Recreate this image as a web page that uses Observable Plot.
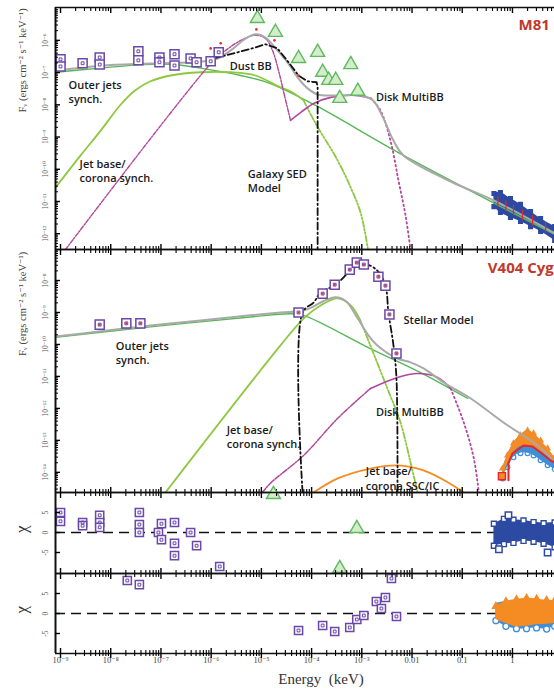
<!DOCTYPE html>
<html><head><meta charset="utf-8">
<script src="https://cdn.jsdelivr.net/npm/d3@7"></script>
<script src="https://cdn.jsdelivr.net/npm/@observablehq/plot@0.6"></script>
<style>
html,body{margin:0;padding:0;background:#fff;overflow:hidden}
#chart{width:554px;height:692px;position:relative}
#chart svg{display:block}
</style></head><body><div id="chart"></div>
<script>
// ---------- tick labels ----------
const xMajorExp = [-9,-8,-7,-6,-5,-4,-3,-2,-1,0];
const xTickLabels = ["10⁻⁹","10⁻⁸","10⁻⁷","10⁻⁶","10⁻⁵","10⁻⁴","10⁻³","0.01","0.1","1"];
const topYExp = [-12,-11,-10,-9,-8,-7,-6];
const topYLabels = ["10⁻¹²","10⁻¹¹","10⁻¹⁰","10⁻⁹","10⁻⁸","10⁻⁷","10⁻⁶"];
const midYExp = [-14,-13,-12,-11,-10,-9,-8];
const midYLabels = ["10⁻¹⁴","10⁻¹³","10⁻¹²","10⁻¹¹","10⁻¹⁰","10⁻⁹","10⁻⁸"];
const chiTicks = [-5,0,5];
const chiLabels = ["-5","0","5"];

// ---------- M81 panel (log10 energy keV, log10 flux) ----------
const m81TotalLogE = [-9.10,-8.20,-7.21,-6.21,-5.91,-5.61,-5.31,-5.11,-4.92,-4.68,-4.48,-4.28,-4.08,-3.88,-3.52,-3.02,-2.78,-2.57,-2.37,-2.17,-1.23,-0.37,0.84];
const m81TotalLogF = [-6.95,-6.79,-6.72,-6.66,-6.59,-6.31,-5.94,-5.81,-5.91,-6.31,-6.68,-7.15,-7.49,-7.68,-7.71,-7.71,-7.86,-8.42,-9.11,-9.57,-10.38,-10.97,-11.99];
const m81OuterLogE = [-9.10,-8.20,-7.41,-6.81,-6.21,-5.41,-4.82,-3.92,-2.17,0.84];
const m81OuterLogF = [-6.99,-6.86,-6.76,-6.74,-6.86,-7.09,-7.34,-8.02,-9.57,-12.02];
const m81JetLogE = [-9.10,-8.60,-8.20,-7.80,-7.51,-7.21,-6.81,-6.21,-5.61,-5.12,-4.62,-4.42,-4.16];
const m81JetLogF = [-10.57,-9.57,-8.80,-7.99,-7.55,-7.27,-7.09,-6.99,-6.99,-7.09,-7.46,-7.58,-7.86];
const m81JetCutLogE = [-4.16,-3.92,-3.48,-3.22,-3.02,-2.88];
const m81JetCutLogF = [-7.86,-8.58,-9.73,-10.57,-11.37,-12.46];
const m81DustLogE = [-8.90,-5.95,-5.71,-5.41,-5.12,-4.92,-4.78,-4.66,-4.54,-4.42];
const m81DustLogF = [-12.49,-6.62,-6.31,-6.00,-5.84,-5.94,-6.31,-6.93,-7.71,-8.48];
const m81DiskLogE = [-4.42,-4.22,-3.96,-3.62,-3.12,-2.82];
const m81DiskLogF = [-8.48,-8.24,-7.96,-7.77,-7.71,-7.80];
const m81DiskTailLogE = [-2.82,-2.63,-2.43,-2.27,-2.13,-2.03];
const m81DiskTailLogF = [-7.80,-8.17,-9.11,-10.35,-11.43,-12.49];
const m81GalaxyLogE = [-5.95,-5.47,-5.12,-4.92,-4.68,-4.46,-4.26,-4.08,-3.90,-3.88,-3.88];
const m81GalaxyLogF = [-6.56,-6.37,-6.22,-6.12,-6.25,-6.68,-7.09,-7.27,-7.30,-7.45,-12.49];
const m81RedLogE = [-6.01,-5.81,-5.10,-4.74,-4.26];
const m81RedLogF = [-6.25,-6.09,-5.66,-6.00,-7.09];
const m81TriLogE = [-5.08,-4.72,-4.26,-3.88,-3.78,-3.66,-3.52,-3.22,-3.44,-3.08];
const m81TriLogF = [-5.32,-5.75,-6.56,-6.37,-6.99,-7.24,-7.24,-6.75,-7.80,-7.58];
const m81SqLogE = [-9.0,-9.0,-8.56,-8.22,-8.22,-7.45,-7.45,-7.03,-7.03,-6.73,-6.73,-6.41,-6.29,-6.01,-5.85];
const m81SqLogF = [-6.59,-6.81,-6.71,-6.53,-6.75,-6.34,-6.62,-6.53,-6.68,-6.43,-6.78,-6.56,-6.68,-6.65,-6.37];
const m81XrayLogE = [-0.37,-0.24,-0.04,0.16,0.36,0.56,0.84];
const m81XrayHiLogF = [-10.75,-10.72,-10.91,-11.09,-11.31,-11.53,-11.78];
const m81XrayLoLogF = [-11.16,-11.34,-11.50,-11.62,-11.78,-11.93,-12.21];
const m81ErrLogE = [-0.29,-0.13,0.02,0.20,0.40,0.66];
const m81ErrLogF = [-11.02,-11.15,-11.28,-11.43,-11.60,-11.82];

// ---------- V404 Cyg panel ----------
const v404TotalLogE = [-9.10,-8.20,-7.21,-6.21,-5.22,-4.62,-4.16,-3.96,-3.76,-3.52,-3.32,-3.08,-2.88,-2.69,-2.29,-2.03,-1.77,-1.37,-0.83,-0.18,0.50,0.84];
const v404TotalLogF = [-9.75,-9.59,-9.41,-9.25,-9.09,-9.00,-8.94,-8.81,-8.64,-8.52,-8.64,-9.19,-9.69,-10.03,-10.44,-10.56,-10.75,-11.19,-11.69,-12.44,-13.16,-13.69];
const v404OuterLogE = [-9.10,-7.21,-5.22,-4.42,-4.16,-2.83,-1.83,-0.89];
const v404OuterLogF = [-9.78,-9.45,-9.14,-9.04,-9.09,-10.13,-10.88,-11.69];
const v404JetLogE = [-6.91,-4.62,-4.16,-3.82,-3.48,-3.22,-3.03];
const v404JetLogF = [-14.63,-10.03,-9.19,-8.78,-8.56,-8.78,-9.25];
const v404JetCutLogE = [-3.03,-2.83,-2.49,-2.23,-2.03,-1.89];
const v404JetCutLogF = [-9.25,-10.03,-11.38,-12.44,-13.69,-14.63];
const v404DiskRiseLogE = [-4.98,-4.82,-4.16,-3.48,-2.83];
const v404DiskRiseLogF = [-14.63,-14.34,-13.47,-12.31,-11.38];
const v404DiskLogE = [-2.83,-2.29,-1.89,-1.49,-1.23];
const v404DiskLogF = [-11.38,-11.03,-10.91,-11.03,-11.38];
const v404DiskTailLogE = [-1.23,-0.97,-0.77,-0.67];
const v404DiskTailLogF = [-11.38,-12.44,-13.56,-14.63];
const v404SscLogE = [-3.96,-3.48,-2.83,-2.29,-1.77,-1.29,-0.97];
const v404SscLogF = [-14.63,-14.19,-13.88,-13.78,-13.94,-14.31,-14.63];
const v404StarLogE = [-4.18,-4.18,-3.96,-3.82,-3.52,-3.22,-2.98,-2.69,-2.53,-2.47,-2.37,-2.31,-2.29];
const v404StarLogF = [-14.63,-9.00,-8.69,-8.38,-8.13,-7.69,-7.47,-7.69,-8.16,-9.00,-10.03,-11.06,-14.63];
const v404SqLogE = [-8.22,-7.69,-7.41,-4.26,-3.78,-3.54,-3.24,-3.10,-2.96,-2.67,-2.53,-2.45,-2.31];
const v404SqLogF = [-9.38,-9.34,-9.34,-9.00,-8.41,-8.13,-7.66,-7.44,-7.50,-7.88,-8.16,-9.06,-10.28];
const v404XrayLogE = [-0.20,-0.10,0.02,0.16,0.30,0.42,0.56,0.70,0.84];
const v404OrangeHiLogF = [-13.88,-13.47,-13.09,-12.84,-12.69,-12.78,-13.00,-13.25,-13.53];
const v404OrangeLoLogF = [-14.13,-13.75,-13.38,-13.19,-13.16,-13.22,-13.34,-13.50,-13.72];
const v404BlueLoLogF = [-14.19,-13.84,-13.53,-13.40,-13.40,-13.47,-13.62,-13.78,-13.90];
const v404RedLogE = [-0.08,-0.08,0.00,0.22,0.40,0.56,0.76,0.84];
const v404RedLogF = [-14.25,-13.72,-13.41,-13.16,-13.19,-13.38,-13.63,-13.69];
const v404LowLogE = [-0.21];
const v404LowLogF = [-14.12];

// ---------- residuals ----------
const chi1SqLogE = [-9.0,-9.0,-8.56,-8.56,-8.22,-8.22,-8.22,-7.43,-7.43,-7.43,-7.05,-6.99,-6.99,-6.73,-6.73,-6.73,-6.41,-6.29,-5.83];
const chi1SqChi = [5,2.8,2.5,1.7,4.3,2.5,1.3,5,2,0,0,2.2,-1.8,2.5,-2.7,-5.8,0,-3.3,-8.5];
const chi1TriLogE = [-4.76,-3.44,-3.10];
const chi1TriChi = [9.5,-9,1];
const chi1BlueLogE = [-0.37,-0.17,0.02,0.22,0.42,0.62,0.84];
const chi1BlueHi = [2.2,3.4,3.2,3.0,2.6,2.3,2.5];
const chi1BlueLo = [-3.3,-2.9,-2.6,-2.1,-2.3,-2.8,-3.7];
const chi1OutLogE = [-0.08,-0.27,0.70];
const chi1OutChi = [4.3,-4.2,-5.0];
const chi2SqLogE = [-7.67,-7.43,-4.26,-3.78,-3.54,-3.24,-3.10,-2.96,-2.71,-2.61,-2.53,-2.41,-2.31];
const chi2SqChi = [8.25,7.2,-4.25,-3,-4.5,-3.5,-1.5,-0.5,3,1.25,4,8.75,-0.75];
const chi2LogE = [-0.33,-0.13,0.08,0.28,0.48,0.68,0.84];
const chi2OrangeHi = [1.8,3.0,3.5,3.8,3.6,3.3,3.2];
const chi2OrangeLo = [-1.5,-2.5,-3.3,-3.2,-2.8,-2.7,-2.5];
const chi2BlueHi = [2.5,3.0,3.0,3.0,3.0,3.0,3.0];
const chi2BlueLo = [-1.8,-3.2,-3.8,-3.8,-3.6,-3.9,-3.2];

// ---------- annotations ----------
const topNoteText = ["Outer jets\nsynch.","Jet base/\ncorona synch.","Dust BB","Galaxy SED\nModel","Disk MultiBB"];
const topNoteLogE = [-8.84,-8.62,-5.63,-5.27,-2.72];
const topNoteLogF = [-7.58,-10.04,-6.78,-10.35,-7.74];
const midNoteText = ["Stellar Model","Outer jets\nsynch.","Jet base/\ncorona synch.","Disk MultiBB","Jet base/\ncorona SSC/IC"];
const midNoteLogE = [-2.17,-7.90,-5.69,-2.72,-2.92];
const midNoteLogF = [-9.22,-10.25,-12.88,-12.09,-14.17];
const sourceNames = ["M81","V404 Cyg"];
const sourceLogE = [0.12,-0.49];
const sourceLogF = [-5.53,-7.63];

// ---------- helpers ----------
const pts = (lx, lf) => lx.map((x, i) => ({E: 10 ** x, F: 10 ** lf[i]}));
const band = (lx, hi, lo, log) => lx.map((x, i) => ({E: 10 ** x, hi: log ? 10 ** hi[i] : hi[i], lo: log ? 10 ** lo[i] : lo[i]}));
const chiPts = (lx, c) => lx.map((x, i) => ({E: 10 ** x, F: c[i]}));
const notes = (t, lx, lf) => t.map((s, i) => ({text: s, E: 10 ** lx[i], F: 10 ** lf[i]}));

const serif = "'Liberation Serif','DejaVu Serif',serif";
const sans = "'Open Sans','Lato',sans-serif";
const C = {gray: "#a9a9a9", green: "#55b755", yellow: "#8dc83f", magenta: "#b2459e", black: "#111",
  orange: "#f58c23", purple: "#6a48a8", tri: "#5fba5f", triFill: "#d3edcb", navy: "#2d4aa3", sky: "#3f8fd8", red: "#e5262b", title: "#c0392b"};

const xDomain = [10 ** -9.1, 10 ** 0.837];
const xMajor = xMajorExp.map(e => 10 ** e);
const minor = (exps, lo, hi) => exps.flatMap(e => [2,3,4,5,6,7,8,9].map(k => k * 10 ** e)).filter(v => v > lo && v < hi);
const xMinor = minor(xMajorExp, xDomain[0], xDomain[1]);

function borders(yDomain) {
  return [
    Plot.ruleY([yDomain[0]], {stroke: "#111", strokeWidth: 1.6}),
    Plot.ruleY([yDomain[1]], {stroke: "#111", strokeWidth: 1.6}),
    Plot.ruleX([xDomain[0]], {stroke: "#111", strokeWidth: 2})
  ];
}
function xInward() {
  return [
    Plot.axisX({anchor: "top", ticks: xMajor, tickSize: 5, insetTop: 5, fill: "none", strokeWidth: 1.4}),
    Plot.axisX({anchor: "top", ticks: xMinor, tickSize: 3, insetTop: 3, fill: "none", strokeWidth: 1.1}),
    Plot.axisX({anchor: "bottom", ticks: xMajor, tickSize: 5, insetBottom: 5, fill: "none", strokeWidth: 1.4}),
    Plot.axisX({anchor: "bottom", ticks: xMinor, tickSize: 3, insetBottom: 3, fill: "none", strokeWidth: 1.1})
  ];
}
function yAxisMarks(ticks, labels, minorTicks, title, titleDy, titleSize) {
  const m = [
    Plot.axisY({anchor: "left", ticks, tickSize: 5, insetLeft: 5, fill: "none", strokeWidth: 1.4}),
    Plot.axisY({anchor: "left", ticks, tickSize: 0, tickPadding: 8, tickRotate: -90,
      tickFormat: d => labels[ticks.indexOf(d)], fontSize: 7.5, fill: "#555", label: null}),
    Plot.text([title], {frameAnchor: "left", text: d => d, rotate: -90, dx: -33, dy: titleDy,
      fontSize: titleSize, fill: "#444", fontFamily: serif})
  ];
  if (minorTicks.length) m.push(Plot.axisY({anchor: "left", ticks: minorTicks, tickSize: 3, insetLeft: 3, fill: "none", strokeWidth: 1}));
  return m;
}
function line(data, stroke, width, dash, curve = "catmull-rom") {
  return Plot.line(data, {x: "E", y: "F", stroke, strokeWidth: width, strokeDasharray: dash, curve, clip: true});
}
function squares(data, r = 5.1) {
  return [
    Plot.dot(data, {x: "E", y: "F", symbol: "square", r, stroke: C.purple, strokeWidth: 1.5, fill: "white"}),
    Plot.dot(data, {x: "E", y: "F", symbol: "square", r: 1.6, stroke: C.purple, strokeWidth: 1, fill: "none"})
  ];
}
function triangles(data) {
  return Plot.dot(data, {x: "E", y: "F", symbol: "triangle", r: 5.2, stroke: C.tri, strokeWidth: 1.4, fill: C.triFill});
}
function noteMarks(data) {
  return Plot.text(data, {x: "E", y: "F", text: "text", textAnchor: "start", fontFamily: sans, fontWeight: 600,
    fontSize: 11, lineHeight: 1.3, fill: "#1a1a1a"});
}
const baseStyle = {fontFamily: serif, background: "transparent", overflow: "visible"};
const common = {width: 554, marginLeft: 55, marginRight: 0, style: baseStyle,
  x: {type: "log", domain: xDomain, axis: null}};

// ---------- top panel: M81 ----------
const topDomain = [10 ** -12.49, 10 ** -4.98];
const topTicks = topYExp.map(e => 10 ** e);
const topMinor = minor([-13,-12,-11,-10,-9,-8,-7,-6,-5], topDomain[0], topDomain[1]);
const topNotes = notes(topNoteText, topNoteLogE, topNoteLogF);
const topPlot = Plot.plot({
  ...common, height: 249, marginTop: 7, marginBottom: 0,
  y: {type: "log", domain: topDomain, axis: null},
  marks: [
    Plot.areaY(band(m81XrayLogE, m81XrayHiLogF, m81XrayLoLogF, true), {x: "E", y1: "lo", y2: "hi", fill: C.navy, curve: "catmull-rom"}),
    Plot.dot(pts(m81XrayLogE, m81XrayHiLogF), {x: "E", y: "F", symbol: "square", r: 2, stroke: C.navy, fill: C.navy}),
    Plot.dot(pts(m81XrayLogE, m81XrayLoLogF), {x: "E", y: "F", symbol: "square", r: 2, stroke: C.navy, fill: C.navy}),
    line(pts(m81OuterLogE, m81OuterLogF), C.green, 1.4),
    line(pts(m81JetLogE, m81JetLogF), C.yellow, 1.8),
    line(pts(m81JetCutLogE, m81JetCutLogF), C.yellow, 1.8, "6,2,1.5,2,1.5,2"),
    line(pts(m81DustLogE, m81DustLogF), C.magenta, 1.4, "4,1.5,1.5,1.5"),
    line(pts(m81DiskLogE, m81DiskLogF), C.magenta, 1.6),
    line(pts(m81DiskTailLogE, m81DiskTailLogF), C.magenta, 1.8, "1.5,3"),
    line(pts(m81TotalLogE, m81TotalLogF), C.gray, 2),
    line(pts(m81GalaxyLogE, m81GalaxyLogF), C.black, 1.8, "7,3,1.5,3", "linear"),
    Plot.ruleX(pts(m81ErrLogE, m81ErrLogF), {x: "E", y1: d => d.F / 1.45, y2: d => d.F * 1.45, stroke: C.red, strokeWidth: 1.2}),
    Plot.dot(pts(m81RedLogE, m81RedLogF), {x: "E", y: "F", r: 1.3, fill: C.red}),
    triangles(pts(m81TriLogE, m81TriLogF)),
    ...squares(pts(m81SqLogE, m81SqLogF)),
    noteMarks(topNotes),
    Plot.text([{text: sourceNames[0], E: 10 ** sourceLogE[0], F: 10 ** sourceLogF[0]}], {x: "E", y: "F", text: "text",
      textAnchor: "start", fontFamily: sans, fontWeight: 700, fontSize: 15, fill: C.title}),
    ...borders(topDomain), ...xInward(),
    ...yAxisMarks(topTicks, topYLabels, topMinor, "Fᵥ (ergs cm⁻² s⁻¹ keV⁻¹)", -16, 10.5)
  ]
});

// ---------- middle panel: V404 Cyg ----------
const midDomain = [10 ** -14.63, 10 ** -7.03];
const midTicks = midYExp.map(e => 10 ** e);
const midMinor = minor([-15,-14,-13,-12,-11,-10,-9,-8], midDomain[0], midDomain[1]);
const midNotes = notes(midNoteText, midNoteLogE, midNoteLogF);
const midPlot = Plot.plot({
  ...common, height: 243, marginTop: 0, marginBottom: 0,
  y: {type: "log", domain: midDomain, axis: null},
  marks: [
    Plot.areaY(band(v404XrayLogE, v404OrangeHiLogF, v404BlueLoLogF, true), {x: "E", y1: "lo", y2: "hi", fill: C.sky, curve: "catmull-rom"}),
    Plot.dot(pts(v404XrayLogE, v404BlueLoLogF), {x: "E", y: "F", r: 2.4, stroke: C.sky, strokeWidth: 1.2, fill: "none"}),
    Plot.areaY(band(v404XrayLogE, v404OrangeHiLogF, v404OrangeLoLogF, true), {x: "E", y1: "lo", y2: "hi", fill: C.orange, curve: "catmull-rom"}),
    Plot.dot(pts(v404XrayLogE, v404OrangeHiLogF), {x: "E", y: "F", symbol: "triangle", r: 2.6, fill: C.orange}),
    line(pts(v404OuterLogE, v404OuterLogF), C.green, 1.4),
    line(pts(v404JetLogE, v404JetLogF), C.yellow, 1.8),
    line(pts(v404JetCutLogE, v404JetCutLogF), C.yellow, 1.8, "6,2,1.5,2,1.5,2"),
    line(pts(v404DiskRiseLogE, v404DiskRiseLogF), C.magenta, 1.5, "5,1.5,1.5,1.5"),
    line(pts(v404DiskLogE, v404DiskLogF), C.magenta, 1.6),
    line(pts(v404DiskTailLogE, v404DiskTailLogF), C.magenta, 1.8, "1.5,3"),
    line(pts(v404SscLogE, v404SscLogF), C.orange, 1.8),
    line(pts(v404TotalLogE, v404TotalLogF), C.gray, 2),
    line(pts(v404StarLogE, v404StarLogF), C.black, 1.8, "7,3,1.5,3"),
    line(pts(v404RedLogE, v404RedLogF), C.red, 2, null, "linear"),
    Plot.dot(pts(v404LowLogE, v404LowLogF), {x: "E", y: "F", symbol: "square", r: 4, stroke: C.red, strokeWidth: 1.4, fill: C.orange}),
    ...squares(pts(v404SqLogE, v404SqLogF)),
    Plot.dot(pts(v404SqLogE, v404SqLogF), {x: "E", y: "F", r: 1.1, fill: C.red}),
    noteMarks(midNotes),
    Plot.text([{text: sourceNames[1], E: 10 ** sourceLogE[1], F: 10 ** sourceLogF[1]}], {x: "E", y: "F", text: "text",
      textAnchor: "start", fontFamily: sans, fontWeight: 700, fontSize: 15, fill: C.title}),
    ...borders(midDomain), ...xInward(),
    ...yAxisMarks(midTicks, midYLabels, midMinor, "Fᵥ (ergs cm⁻² s⁻¹ keV⁻¹)", -15, 10.5)
  ]
});

// ---------- residual panels ----------
function chiPlot({height, marginBottom, domain, marks, extra}) {
  return Plot.plot({
    ...common, height, marginTop: 0, marginBottom,
    y: {type: "linear", domain, axis: null},
    marks: [
      Plot.ruleY([0], {stroke: "#111", strokeWidth: 1.5, strokeDasharray: "10,6"}),
      ...marks,
      ...borders(domain), ...xInward(),
      Plot.axisY({anchor: "left", ticks: chiTicks, tickSize: 5, insetLeft: 5, fill: "none", strokeWidth: 1.4}),
      Plot.axisY({anchor: "left", ticks: chiTicks, tickSize: 0, tickPadding: 8, tickRotate: -90,
        tickFormat: d => chiLabels[chiTicks.indexOf(d)], fontSize: 7.5, fill: "#555", label: null}),
      Plot.text(["χ"], {frameAnchor: "left", text: d => d, rotate: -90, dx: -34, fontSize: 17, fill: "#333", fontFamily: serif}),
      ...(extra || [])
    ]
  });
}
const chi1 = chiPlot({
  height: 81, marginBottom: 0, domain: [-10.25, 10],
  marks: [
    Plot.areaY(band(chi1BlueLogE, chi1BlueHi, chi1BlueLo, false), {x: "E", y1: "lo", y2: "hi", fill: C.navy}),
    Plot.dot(chiPts(chi1BlueLogE, chi1BlueHi), {x: "E", y: "F", symbol: "square", r: 2.8, stroke: C.navy, fill: "white", strokeWidth: 1.4}),
    Plot.dot(chiPts(chi1BlueLogE, chi1BlueLo), {x: "E", y: "F", symbol: "square", r: 2.8, stroke: C.navy, fill: "white", strokeWidth: 1.4}),
    Plot.dot(chiPts(chi1OutLogE, chi1OutChi), {x: "E", y: "F", symbol: "square", r: 3.6, stroke: C.navy, fill: "white", strokeWidth: 1.5}),
    triangles(chiPts(chi1TriLogE, chi1TriChi)),
    ...squares(chiPts(chi1SqLogE, chi1SqChi), 4.6)
  ]
});
const chi2 = chiPlot({
  height: 119, marginBottom: 39, domain: [-10, 10],
  marks: [
    Plot.areaY(band(chi2LogE, chi2BlueHi, chi2BlueLo, false), {x: "E", y1: "lo", y2: "hi", fill: C.sky, curve: "catmull-rom"}),
    Plot.dot(chiPts(chi2LogE, chi2BlueLo), {x: "E", y: "F", r: 3, stroke: C.sky, fill: "white", strokeWidth: 1.3}),
    Plot.areaY(band(chi2LogE, chi2OrangeHi, chi2OrangeLo, false), {x: "E", y1: "lo", y2: "hi", fill: C.orange, curve: "catmull-rom"}),
    Plot.dot(chiPts(chi2LogE, chi2OrangeHi), {x: "E", y: "F", symbol: "triangle", r: 3.4, fill: C.orange}),
    ...squares(chiPts(chi2SqLogE, chi2SqChi), 4.6)
  ],
  extra: [
    Plot.axisX({anchor: "bottom", ticks: xMajor, tickSize: 5, fill: "none", strokeWidth: 1.4}),
    Plot.axisX({anchor: "bottom", ticks: xMinor, tickSize: 3, fill: "none", strokeWidth: 1.1}),
    Plot.axisX({anchor: "bottom", ticks: xMajor, tickSize: 0, tickPadding: 3,
      tickFormat: d => xTickLabels[xMajor.indexOf(d)], fontSize: 8.5, fill: "#444", label: null}),
    Plot.text(["Energy  (keV)"], {frameAnchor: "bottom", text: d => d, dx: 16, dy: 30, fontSize: 15, fill: "#333", fontFamily: serif})
  ]
});

const root = document.getElementById("chart");
[topPlot, midPlot, chi1, chi2].forEach(p => root.appendChild(p));
</script></body></html>
